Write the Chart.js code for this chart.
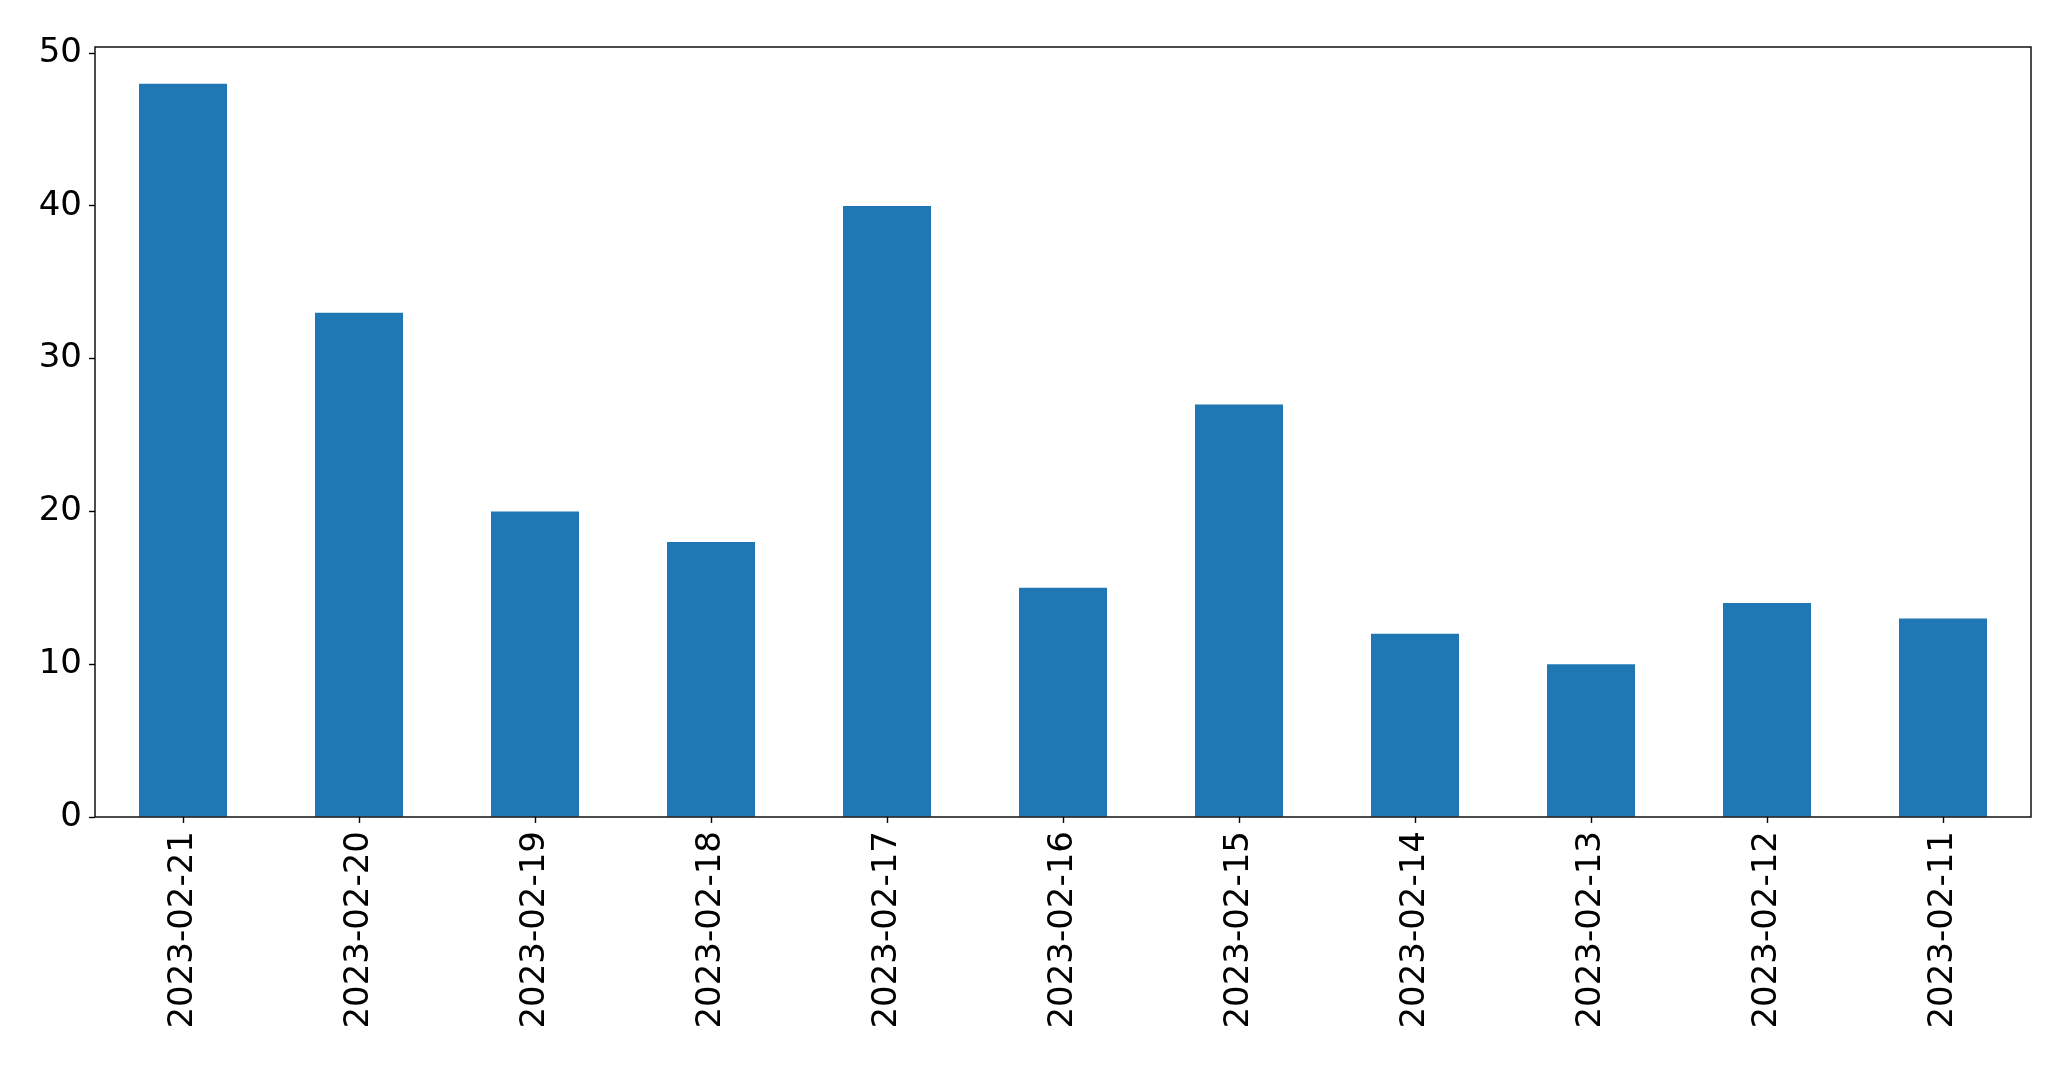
<!DOCTYPE html>
<html>
<head>
<meta charset="utf-8">
<script src="https://cdn.jsdelivr.net/npm/chart.js@4.4.0/dist/chart.umd.min.js"></script>
<style>
  html, body { margin: 0; padding: 0; background: #fff; }
  #wrap { width: 2071px; height: 1069px; }
</style>
</head>
<body>
<div id="wrap"><canvas id="c" width="2071" height="1069"></canvas></div>
<script>
const categories = ["2023-02-21","2023-02-20","2023-02-19","2023-02-18","2023-02-17","2023-02-16","2023-02-15","2023-02-14","2023-02-13","2023-02-12","2023-02-11"];
const values = [48, 33, 20, 18, 40, 15, 27, 12, 10, 14, 13];
const yTicks = [0, 10, 20, 30, 40, 50];
const yMax = 50.4;

const frame = {
  id: 'frame',
  afterDatasetsDraw(chart) {
    const a = chart.chartArea, ctx = chart.ctx;
    ctx.save();
    ctx.strokeStyle = '#000';
    ctx.lineWidth = 1.4;
    ctx.strokeRect(a.left, a.top, a.right - a.left, a.bottom - a.top);
    ctx.restore();
  }
};

Chart.defaults.font.family = "'DejaVu Sans', sans-serif";
new Chart(document.getElementById('c'), {
  type: 'bar',
  data: {
    labels: categories,
    datasets: [{
      data: values,
      backgroundColor: '#1f77b4',
      borderWidth: 0,
      categoryPercentage: 1.0,
      barPercentage: 0.5
    }]
  },
  options: {
    responsive: false,
    animation: false,
    layout: { padding: { top: 47, right: 40, left: 0, bottom: 0 } },
    plugins: { legend: { display: false }, tooltip: { enabled: false } },
    scales: {
      x: {
        grid: { offset: false, drawOnChartArea: false, drawTicks: true, tickLength: 6, color: '#000', tickWidth: 1.4 },
        border: { display: false },
        ticks: { color: '#000', font: { size: 34 }, minRotation: 90, maxRotation: 90, padding: 8, autoSkip: false },
        afterFit(s) { s.height = 252; }
      },
      y: {
        min: 0, max: yMax,
        grid: { drawOnChartArea: false, drawTicks: true, tickLength: 6, color: '#000', tickWidth: 1.4 },
        border: { display: false },
        ticks: { color: '#000', font: { size: 34 }, padding: 7 },
        afterBuildTicks(s) { s.ticks = yTicks.map(v => ({ value: v })); },
        afterFit(s) { s.width = 95; }
      }
    }
  },
  plugins: [frame]
});
</script>
</body>
</html>
